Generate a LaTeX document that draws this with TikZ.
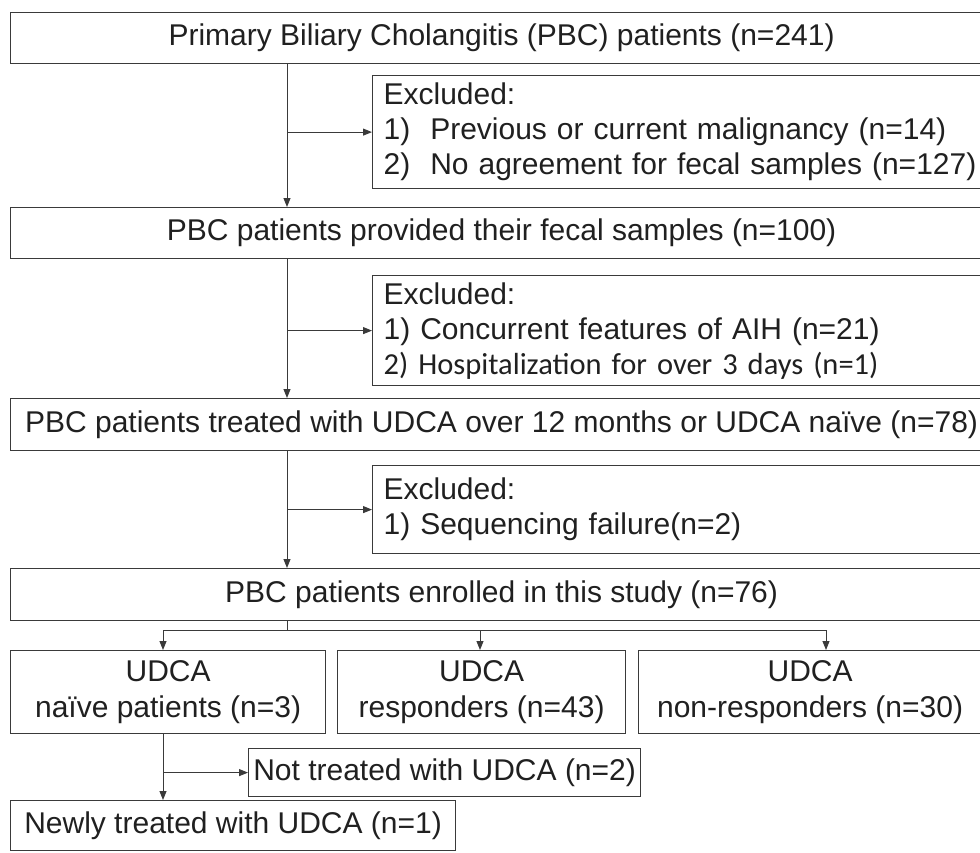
\documentclass[tikz,border=0pt]{standalone}
\usepackage{fontspec}
\setmainfont{Liberation Sans}
\newfontfamily\calfont{Carlito}
\usetikzlibrary{arrows.meta}
\definecolor{linec}{HTML}{3A3A3A}
\definecolor{textc}{HTML}{202020}
\begin{document}
\begin{tikzpicture}[x=1pt,y=-1pt,
  box/.style={draw=linec, line width=1.2pt, rectangle, inner sep=0pt, anchor=north west,
    font=\fontsize{30}{36}\selectfont, text=textc, align=center},
  exbox/.style={box, inner xsep=11pt, align=left, font=\fontsize{30}{35}\selectfont},
  arr/.style={draw=linec, line width=1pt, -{Triangle[length=9pt,width=7pt]}},
  ln/.style={draw=linec, line width=1pt}]
\useasboundingbox (0,0) rectangle (980,852);
\fill[white] (0,0) rectangle (980,852);
\coordinate (sp) at (287,0);
% main boxes
\node[box, minimum width=982pt, minimum height=51pt] (b1) at (10,12) {Primary Biliary Cholangitis (PBC) patients (n=241)};
\node[exbox, minimum width=620pt, minimum height=113pt, text width=598pt] (e1) at (372,75)
  {Excluded:\\1)\ \ Previous or current malignancy (n=14)\\2)\ \ No agreement for fecal samples (n=127)};
\node[box, minimum width=982pt, minimum height=51pt] (b2) at (10,207) {PBC patients provided their fecal samples (n=100)};
\node[exbox, minimum width=620pt, minimum height=110pt, text width=598pt] (e2) at (372,275)
  {Excluded:\\1) Concurrent features of AIH (n=21)\\{\calfont\fontsize{30.5}{35}\selectfont 2) Hospitalization for over 3 days (n=1)}};
\node[box, minimum width=982pt, minimum height=52pt] (b3) at (10,398) {PBC patients treated with UDCA over 12 months or UDCA na\"{\i}ve (n=78)};
\node[exbox, minimum width=620pt, minimum height=88pt, text width=598pt] (e3) at (372,465)
  {Excluded:\\1) Sequencing failure(n=2)};
\node[box, minimum width=982pt, minimum height=52pt] (b4) at (10,568) {PBC patients enrolled in this study (n=76)};
% groups
\node[box, minimum width=315pt, minimum height=83pt] (ga) at (10,650) {UDCA\\na\"{\i}ve patients (n=3)};
\node[box, minimum width=288pt, minimum height=83pt] (gb) at (337,650) {UDCA\\responders (n=43)};
\node[box, minimum width=343pt, minimum height=83pt] (gc) at (638,650) {UDCA\\non-responders (n=30)};
\node[box, minimum width=392pt, minimum height=48pt] (nt) at (248,748) {Not treated with UDCA (n=2)};
\node[box, minimum width=445pt, minimum height=50pt] (nw) at (10,800) {Newly treated with UDCA (n=1)};
% connectors
\draw[arr] (b1.south -| sp) -- (b2.north -| sp);
\draw[arr] (sp |- e1.west) -- (e1.west);
\draw[arr] (b2.south -| sp) -- (b3.north -| sp);
\draw[arr] (sp |- e2.west) -- (e2.west);
\draw[arr] (b3.south -| sp) -- (b4.north -| sp);
\draw[arr] (sp |- e3.west) -- (e3.west);
\coordinate (jn) at (287,630);
\coordinate (ja) at (163,630);
\coordinate (jb) at (480,630);
\coordinate (jc) at (826,630);
\draw[ln] (b4.south -| jn) -- (jn);
\draw[ln] (ja) -- (jc);
\draw[arr] (ja) -- (ja |- ga.north);
\draw[arr] (jb) -- (jb |- gb.north);
\draw[arr] (jc) -- (jc |- gc.north);
\draw[arr] (ga.south -| ja) -- (nw.north -| ja);
\draw[arr] (ja |- nt.west) -- (nt.west);
\end{tikzpicture}
\end{document}
